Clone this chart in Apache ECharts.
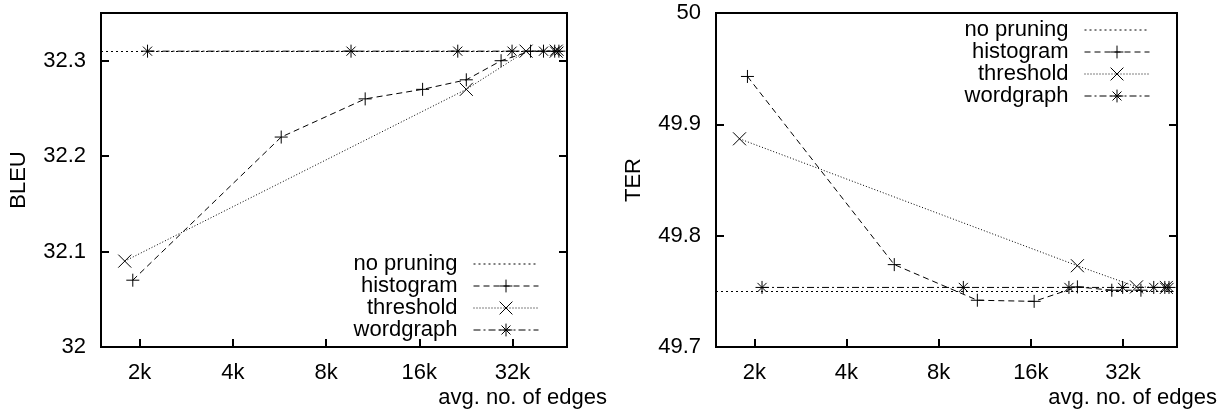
<!DOCTYPE html>
<html>
<head>
<meta charset="utf-8">
<script src="https://cdn.jsdelivr.net/npm/echarts@6/dist/echarts.min.js"></script>
<style>
  body { margin: 0; background: #fff; }
  .panel { position: absolute; top: 0; width: 615px; height: 412px; }
</style>
</head>
<body>
<div id="bleuChart" class="panel" style="left:0"></div>
<div id="terChart" class="panel" style="left:615px"></div>
<script>
// x values: avg. no. of edges, in thousands
var histEdges = [1.90, 5.73, 10.7, 16.4, 22.7, 29.4, 36.6];
var threshEdges = [1.79, 22.7, 35.4, 44.3];
var wordEdges = [2.12, 9.63, 21.3, 31.9, 40.3, 43.8, 45.2];

var bleuNoPruning = 32.31;
var bleuHist = [32.07, 32.22, 32.26, 32.27, 32.28, 32.30, 32.31];
var bleuThresh = [32.09, 32.27, 32.31, 32.31];
var bleuWord = [32.31, 32.31, 32.31, 32.31, 32.31, 32.31, 32.31];

var terNoPruning = 49.7535;
var terHist = [49.943, 49.774, 49.742, 49.741, 49.754, 49.751, 49.751];
var terThresh = [49.887, 49.773, 49.754, 49.7535];
var terWord = [49.7535, 49.7535, 49.7535, 49.7535, 49.7535, 49.7535, 49.7535];

var legendNames = ['no pruning', 'histogram', 'threshold', 'wordgraph'];

var FONT = '"Liberation Sans", Arial, sans-serif';
var plusSym = 'path://M5,0L5,10M0,5L10,5';
var crossSym = 'path://M0,0L10,10M0,10L10,0';
var starSym = 'path://M5,0L5,10M0,5L10,5M1.5,1.5L8.5,8.5M1.5,8.5L8.5,1.5';

function pairs(xs, ys) {
    var out = [];
    for (var i = 0; i < xs.length; i++) {
        out.push([xs[i], ys[i]]);
    }
    return out;
}

function markerSeries(name, sym, dash, data) {
    return {
        name: name,
        type: 'line',
        data: data,
        symbol: sym,
        symbolSize: 13,
        showAllSymbol: true,
        itemStyle: { color: 'rgba(0,0,0,0)', borderColor: '#000', borderWidth: 1 },
        lineStyle: { color: '#000', width: 1, type: dash },
        emphasis: { disabled: true },
        z: 3
    };
}

function buildOption(p) {
    var yAxisBase = {
        type: 'value',
        min: p.ymin,
        max: p.ymax,
        interval: 0.1,
        axisLine: { show: true, lineStyle: { color: '#000', width: 2 } },
        axisTick: { show: true, inside: true, length: 8, lineStyle: { color: '#000', width: 2 } },
        splitLine: { show: false }
    };
    return {
        animation: false,
        grid: {
            left: p.gridLeft, right: p.gridRight, top: 13, bottom: 65,
            show: true, borderColor: '#000', borderWidth: 2
        },
        legend: {
            data: legendNames,
            orient: 'vertical',
            align: 'right',
            right: p.legendRight,
            top: p.legendTop,
            padding: 0,
            itemGap: 0,
            itemWidth: 65,
            itemHeight: 16,
            selectedMode: false,
            itemStyle: { borderWidth: 1 },
            lineStyle: { width: 1 },
            textStyle: { fontFamily: FONT, fontSize: 22, color: '#000', lineHeight: 22, padding: [0, 11, 0, 0] }
        },
        xAxis: {
            type: 'log',
            logBase: 2,
            min: 1.5,
            max: 48,
            axisLine: { show: true, lineStyle: { color: '#000', width: 2 } },
            axisTick: { show: true, inside: true, length: 8, lineStyle: { color: '#000', width: 2 } },
            axisLabel: {
                fontFamily: FONT, fontSize: 22, color: '#000', margin: 15,
                showMinLabel: false, showMaxLabel: false,
                formatter: function (v) { return Math.round(v) + 'k'; }
            },
            splitLine: { show: false }
        },
        yAxis: [
            Object.assign({}, yAxisBase, {
                position: 'left',
                name: p.yName,
                nameLocation: 'middle',
                nameGap: 71,
                nameTextStyle: { fontFamily: FONT, fontSize: 22, color: '#000' },
                axisLabel: {
                    fontFamily: FONT, fontSize: 22, color: '#000', margin: 15,
                    showMaxLabel: p.showTop,
                    formatter: function (v) { return +v.toFixed(2) + ''; }
                }
            }),
            Object.assign({}, yAxisBase, {
                position: 'right',
                axisLabel: { show: false }
            })
        ],
        graphic: [{
            type: 'text',
            right: p.nameRight,
            top: 387,
            style: { text: 'avg. no. of edges', font: '22px ' + FONT, fill: '#000' }
        }],
        series: [
            {
                name: 'no pruning',
                type: 'line',
                data: [],
                symbol: 'none',
                itemStyle: { color: 'rgba(0,0,0,0)' },
                lineStyle: { color: '#000', width: 1, type: [2, 3] },
                markLine: {
                    silent: true,
                    symbol: 'none',
                    label: { show: false },
                    lineStyle: { color: '#000', width: 1, type: [2, 3] },
                    data: [{ yAxis: p.noPruning }]
                }
            },
            markerSeries('histogram', plusSym, [6, 4], pairs(histEdges, p.hist)),
            markerSeries('threshold', crossSym, [1, 2], pairs(threshEdges, p.thresh)),
            markerSeries('wordgraph', starSym, [7, 3, 2, 3], pairs(wordEdges, p.word))
        ]
    };
}

var bleuChart = echarts.init(document.getElementById('bleuChart'));
bleuChart.setOption(buildOption({
    gridLeft: 99, gridRight: 48, legendRight: 76, legendTop: 253, nameRight: 8,
    ymin: 32, ymax: 32.35, showTop: false, yName: 'BLEU', noPruning: bleuNoPruning,
    hist: bleuHist, thresh: bleuThresh, word: bleuWord
}));

var terChart = echarts.init(document.getElementById('terChart'));
terChart.setOption(buildOption({
    gridLeft: 94, gridRight: 53, legendRight: 80, legendTop: 19, nameRight: 13,
    ymin: 49.7, ymax: 50, showTop: true, yName: 'TER', noPruning: terNoPruning,
    hist: terHist, thresh: terThresh, word: terWord
}));
</script>
</body>
</html>
